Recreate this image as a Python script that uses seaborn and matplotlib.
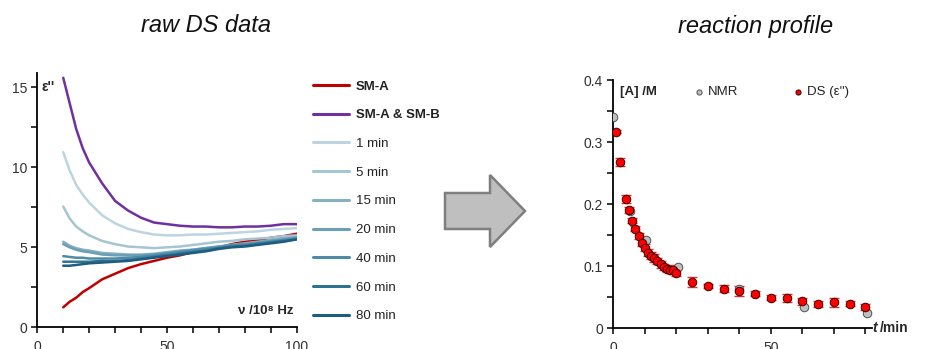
import numpy as np
import pandas as pd
import seaborn as sns
import matplotlib.pyplot as plt
from matplotlib.patches import Polygon
from matplotlib.ticker import MultipleLocator

# ---- raw DS data (left panel) ----
freq = [10, 12.5, 15, 17.5, 20, 25, 30, 35, 40, 45, 50, 55, 60, 65, 70, 75, 80, 85, 90, 95, 100]

eps_sm_a = [1.25, 1.6, 1.85, 2.2, 2.45, 3.0, 3.35, 3.7, 3.95, 4.15, 4.35, 4.5, 4.7, 4.85, 5.0, 5.2, 5.35, 5.45, 5.6, 5.7, 5.85]
eps_sm_ab = [15.6, 14.0, 12.4, 11.2, 10.3, 9.0, 7.9, 7.3, 6.85, 6.55, 6.45, 6.35, 6.3, 6.3, 6.25, 6.25, 6.3, 6.3, 6.35, 6.45, 6.45]
eps_1 = [10.95, 9.8, 8.9, 8.3, 7.8, 7.0, 6.5, 6.15, 5.95, 5.8, 5.75, 5.75, 5.8, 5.8, 5.85, 5.9, 5.95, 6.0, 6.1, 6.15, 6.2]
eps_5 = [7.55, 6.8, 6.3, 6.0, 5.75, 5.4, 5.2, 5.05, 5.0, 4.95, 5.0, 5.05, 5.15, 5.25, 5.35, 5.4, 5.5, 5.55, 5.6, 5.7, 5.75]
eps_15 = [5.35, 5.1, 4.95, 4.85, 4.8, 4.65, 4.6, 4.55, 4.55, 4.6, 4.7, 4.8, 4.85, 4.95, 5.05, 5.15, 5.25, 5.35, 5.45, 5.55, 5.65]
eps_20 = [5.2, 5.0, 4.85, 4.75, 4.7, 4.55, 4.5, 4.5, 4.5, 4.55, 4.65, 4.75, 4.85, 4.95, 5.05, 5.15, 5.2, 5.3, 5.4, 5.5, 5.6]
eps_40 = [4.45, 4.4, 4.35, 4.35, 4.3, 4.3, 4.3, 4.35, 4.4, 4.5, 4.6, 4.7, 4.8, 4.9, 5.0, 5.1, 5.15, 5.25, 5.35, 5.45, 5.55]
eps_60 = [4.1, 4.1, 4.1, 4.1, 4.1, 4.15, 4.15, 4.2, 4.3, 4.4, 4.5, 4.6, 4.7, 4.8, 4.95, 5.05, 5.1, 5.2, 5.3, 5.4, 5.5]
eps_80 = [3.85, 3.85, 3.9, 3.95, 4.0, 4.05, 4.1, 4.15, 4.25, 4.35, 4.45, 4.55, 4.65, 4.75, 4.9, 5.0, 5.05, 5.15, 5.25, 5.35, 5.5]

series_labels = ["SM-A", "SM-A & SM-B", "1 min", "5 min", "15 min", "20 min", "40 min", "60 min", "80 min"]
series_values = [eps_sm_a, eps_sm_ab, eps_1, eps_5, eps_15, eps_20, eps_40, eps_60, eps_80]
series_colors = ["#C00000", "#7030A0", "#BCD5E0", "#A5C5D3", "#86B0C3", "#6A9FB6", "#4F8AA6",
                 "#2F7393", "#1D5D7F"]

# ---- reaction profile (right panel) ----
nmr_t = [0, 5.3, 10.5, 20.4, 40, 60.5, 80.5]
nmr_conc = [0.340, 0.189, 0.142, 0.0995, 0.063, 0.035, 0.024]

ds_t = [1, 2, 4, 5, 6, 7, 8, 9, 10, 11, 12, 13, 14, 15, 16, 17, 18, 19, 20,
        25, 30, 35, 40, 45, 50, 55, 60, 65, 70, 75, 80]
ds_conc = [0.317, 0.268, 0.208, 0.191, 0.173, 0.160, 0.149, 0.138, 0.130, 0.122, 0.117, 0.113, 0.109,
           0.103, 0.099, 0.096, 0.0945, 0.0945, 0.0895, 0.0746, 0.0677, 0.064, 0.0596, 0.0553,
           0.0489, 0.0489, 0.0435, 0.0392, 0.0419, 0.0392, 0.0338]
ds_err = [0.003, 0.0065, 0.006, 0.005, 0.004, 0.004, 0.005, 0.006, 0.006, 0.006, 0.006, 0.006, 0.005,
          0.006, 0.005, 0.005, 0.006, 0.007, 0.005, 0.008, 0.003, 0.006, 0.008, 0.004, 0.004,
          0.006, 0.006, 0.005, 0.007, 0.004, 0.005]

sns.set_style("ticks")
plt.rcParams['font.family'] = ['Liberation Sans', 'DejaVu Sans']

W, H = 925, 349
fig = plt.figure(figsize=(W / 100, H / 100), dpi=100)


def px(x0, y0, x1, y1):
    # axes rect from pixel box (top-left origin)
    return [x0 / W, 1 - y1 / H, (x1 - x0) / W, (y1 - y0) / H]


def style_axes(ax):
    for side in ["top", "right"]:
        ax.spines[side].set_visible(False)
    for side in ["left", "bottom"]:
        ax.spines[side].set_linewidth(1.3)
        ax.spines[side].set_color("black")
    ax.tick_params(which="both", direction="out", length=4, width=1.1, colors="black",
                   labelsize=10, labelcolor="#303030")
    ax.tick_params(axis="x", pad=5)


# left panel
ax1 = fig.add_axes(px(37.3, 73, 296.7, 327.3))
df = pd.DataFrame({
    "freq": np.tile(freq, len(series_labels)),
    "eps": np.concatenate(series_values),
    "series": np.repeat(series_labels, len(freq)),
})
sns.lineplot(data=df, x="freq", y="eps", hue="series", hue_order=series_labels,
             palette=dict(zip(series_labels, series_colors)), estimator=None, sort=False,
             linewidth=1.8, ax=ax1)
ax1.set_xlim(0, 100)
ax1.set_ylim(0, 15.9)
ax1.xaxis.set_major_locator(MultipleLocator(50))
ax1.xaxis.set_minor_locator(MultipleLocator(10))
ax1.yaxis.set_major_locator(MultipleLocator(5))
ax1.yaxis.set_minor_locator(MultipleLocator(2.5))
ax1.set_xlabel("")
ax1.set_ylabel("")
style_axes(ax1)

handles, labels = ax1.get_legend_handles_labels()
leg = ax1.legend(handles, labels, loc="upper left", bbox_to_anchor=(308 / W, 1 - 75 / H),
                 bbox_transform=fig.transFigure, frameon=False, fontsize=9.5,
                 handlelength=2.7, handletextpad=0.5, labelspacing=1.25, borderaxespad=0)
for txt in leg.get_texts():
    txt.set_color("#222222")
    if txt.get_text().startswith("SM"):
        txt.set_fontweight("bold")
for ln in leg.get_lines():
    ln.set_linewidth(2.2)

fig.text(42 / W, 1 - 87 / H, "ε''", fontsize=10, fontweight="bold", va="center", ha="left")
fig.text(293 / W, 1 - 311 / H, "ν /10⁸ Hz", fontsize=9.5, fontweight="bold", va="center", ha="right")

# right panel
ax2 = fig.add_axes(px(613.3, 80, 871.7, 328.3))
ax2.errorbar(ds_t, ds_conc, yerr=ds_err, fmt="none", ecolor="#E03030", elinewidth=1.0,
             capsize=3.5, capthick=1.0, zorder=2)
sns.scatterplot(x=nmr_t, y=nmr_conc, color="#BFBFBF", edgecolor="#505050", linewidth=0.7,
                s=38, zorder=3, ax=ax2, label="NMR")
sns.scatterplot(x=ds_t, y=ds_conc, color="#FF0000", edgecolor="#3A0000", linewidth=0.7,
                s=38, zorder=4, ax=ax2, label="DS (ε'')")
ax2.set_xlim(0, 82)
ax2.set_ylim(0, 0.4)
ax2.xaxis.set_major_locator(MultipleLocator(50))
ax2.xaxis.set_minor_locator(MultipleLocator(10))
ax2.yaxis.set_major_locator(MultipleLocator(0.1))
ax2.yaxis.set_minor_locator(MultipleLocator(0.05))
ax2.set_yticks([0, 0.1, 0.2, 0.3, 0.4])
ax2.set_yticklabels(["0", "0.1", "0.2", "0.3", "0.4"])
style_axes(ax2)
leg2 = ax2.legend(loc="center left", bbox_to_anchor=(695 / W, 1 - 92 / H),
                  bbox_transform=fig.transFigure, ncol=2, frameon=False, fontsize=9.5,
                  handlelength=0.6, handletextpad=0.4, columnspacing=4.2, markerscale=0.6,
                  borderaxespad=0, borderpad=0)
for txt in leg2.get_texts():
    txt.set_color("#222222")

fig.text(620 / W, 1 - 92 / H, "[A] /M", fontsize=9.5, fontweight="bold", va="center", ha="left")
fig.text(872 / W, 1 - 328 / H, "t", fontsize=10, fontweight="bold", style="italic", va="center", ha="left")
fig.text(880 / W, 1 - 328 / H, "/min", fontsize=10, fontweight="bold", va="center", ha="left")

# titles
fig.text(206 / W, 1 - 26 / H, "raw DS data", fontsize=17, style="italic", color="#111111",
         ha="center", va="center")
fig.text(756 / W, 1 - 26 / H, "reaction profile", fontsize=17, style="italic", color="#111111",
         ha="center", va="center")

# arrow between panels
arrow_px = [(445, 193), (490, 193), (490, 175), (525, 211), (490, 247), (490, 229), (445, 229)]
arrow = Polygon([(x / W, 1 - y / H) for x, y in arrow_px], closed=True, transform=fig.transFigure,
                facecolor="#BFBFBF", edgecolor="#7F7F7F", linewidth=1.8)
fig.add_artist(arrow)

fig.savefig("out.png", dpi=100)
